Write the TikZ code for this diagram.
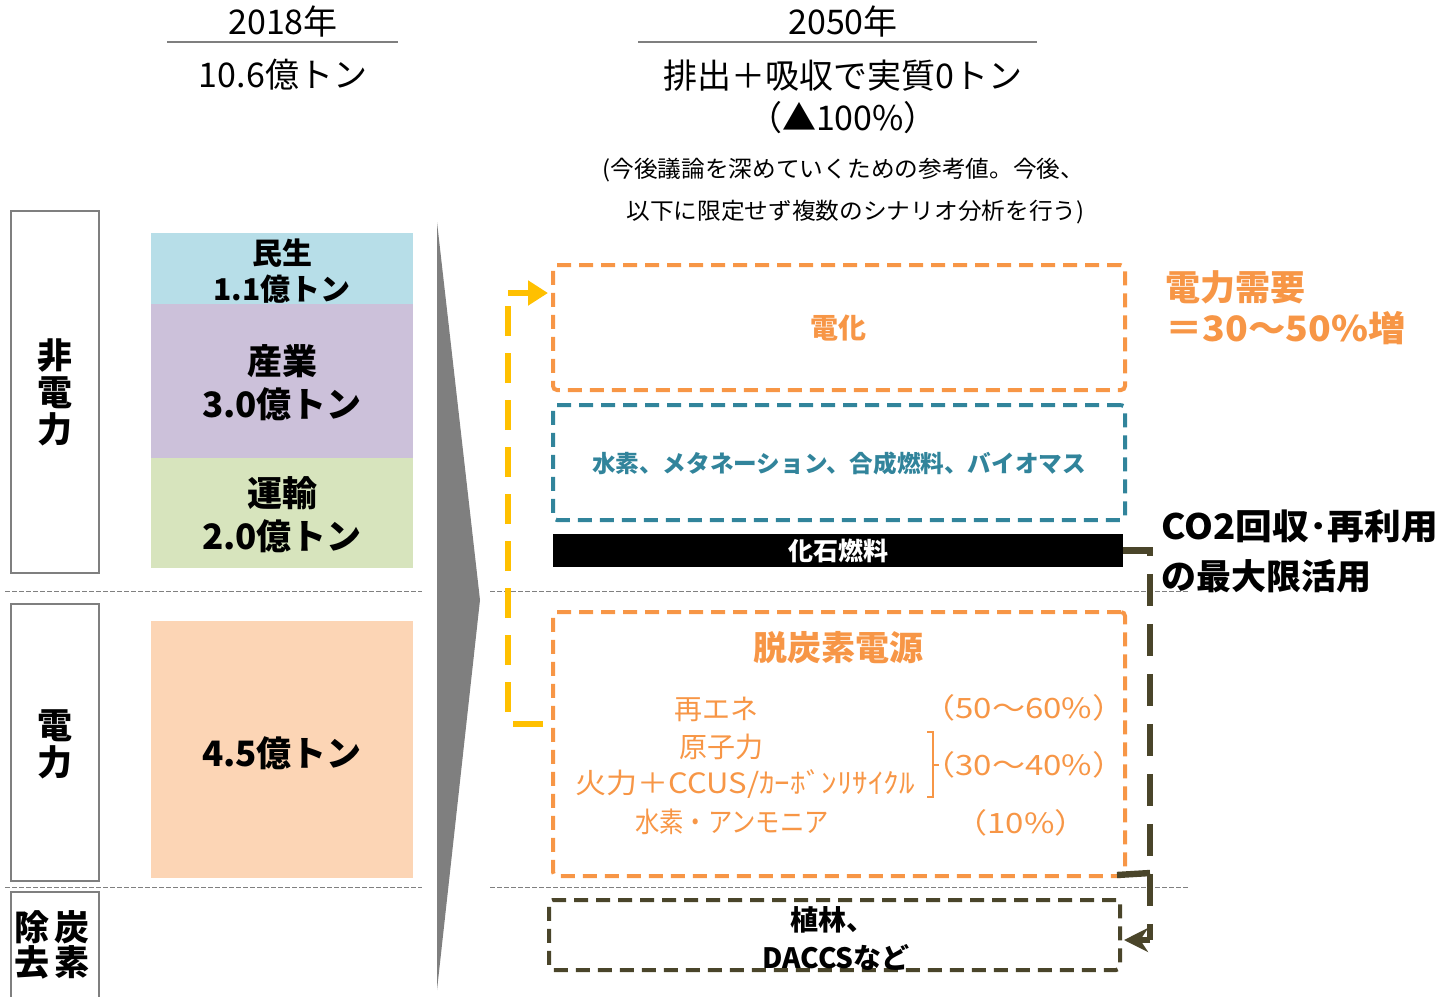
\documentclass[tikz,border=0pt]{standalone}
\usepackage{fontspec}
\setmainfont{Noto Sans CJK JP}
\usetikzlibrary{fit,arrows.meta,calc}
\definecolor{orng}{HTML}{F79646}
\definecolor{tealc}{HTML}{31849B}
\definecolor{olv}{HTML}{4A452A}
\definecolor{ylw}{HTML}{FFC000}
\definecolor{cmin}{HTML}{B7DEE8}
\definecolor{csan}{HTML}{CCC1DA}
\definecolor{cunyu}{HTML}{D7E4BD}
\definecolor{cden}{HTML}{FCD5B5}
\definecolor{garr}{HTML}{7F7F7F}
\newcommand\myfs[1]{\fontsize{#1}{#1}\selectfont}
\begin{document}
\begin{tikzpicture}[x=0.5pt,y=-0.5pt,
  txt/.style={inner sep=0pt, align=center},
  lblbox/.style={draw=garr, line width=0.9pt, inner sep=0pt},
  bar/.style={inner sep=0pt, draw=none},
  sepline/.style={draw=gray, line width=0.5pt, dash pattern=on 2.5pt off 1pt},
  hdrline/.style={draw=garr, line width=1pt},
  obox/.style={draw=orng, line width=2pt, dash pattern=on 7pt off 4pt, rounded corners=2pt, inner sep=0pt},
  tbox/.style={draw=tealc, line width=2pt, dash pattern=on 7pt off 4pt, rounded corners=2pt, inner sep=0pt},
  kbox/.style={draw=olv, line width=2pt, dash pattern=on 7pt off 4pt, rounded corners=2pt, inner sep=0pt},
  ylwline/.style={draw=ylw, line width=2.8pt, dash pattern=on 15pt off 8.5pt},
  olvline/.style={draw=olv, line width=3.2pt, dash pattern=on 16pt off 9pt},
]
\useasboundingbox (0,0) rectangle (1440,996);

% headers
\node[txt, font=\myfs{17pt}] (y2018) at (283,22) {2018年};
\coordinate (h1a) at (167,42); \coordinate (h1b) at (398,42);
\draw[hdrline] (h1a) -- (h1b);
\node[txt, font=\myfs{17pt}] (t2018) at (283,75) {10.6億トン};
\node[txt, font=\myfs{17pt}] (y2050) at (843,22) {2050年};
\coordinate (h2a) at (638,42); \coordinate (h2b) at (1037,42);
\draw[hdrline] (h2a) -- (h2b);
\node[txt, font=\myfs{17pt}] (t2050a) at (843,76) {排出＋吸収で実質0トン};
\node[txt, font=\myfs{17pt}] (t2050b) at (843,118) {（▲100\%）};
\node[txt, anchor=west, font=\myfs{11.5pt}] (note1) at (602,170) {\scalebox{1.03}[1]{(今後議論を深めていくための参考値。今後、}};
\node[txt, anchor=west, font=\myfs{11.5pt}] (note2) at (626,212) {\scalebox{1.03}[1]{以下に限定せず複数のシナリオ分析を行う)}};

% left label boxes
\node[lblbox, fit={(11,211) (99,573)}] (lhi) {};
\node[txt, font=\myfs{17.5pt}\bfseries, align=center] (lhit) at (lhi.center) {非\\[1pt]電\\[1pt]力};
\node[lblbox, fit={(11,604) (99,881)}] (lden) {};
\node[txt, font=\myfs{17.5pt}\bfseries, align=center] (ldent) at ([yshift=-1pt]lden.center) {電\\[1pt]力};
\node[lblbox, fit={(11,892) (99,1010)}] (ljo) {};
\node[txt, font=\myfs{17.5pt}\bfseries, align=center] (ljot) at (52,945) {除\hspace{3pt}炭\\去\hspace{3pt}素};

% separators
\coordinate (s1a) at (5,591); \coordinate (s1b) at (422,591);
\coordinate (s2a) at (5,887); \coordinate (s2b) at (422,887);
\coordinate (s3a) at (490,591); \coordinate (s3b) at (1190,591);
\coordinate (s4a) at (490,887); \coordinate (s4b) at (1188,887);
\draw[sepline] (s1a) -- (s1b);
\draw[sepline] (s2a) -- (s2b);
\draw[sepline] (s3a) -- (s3b);
\draw[sepline] (s4a) -- (s4b);

% stacked bars
\node[bar, fill=cmin, fit={(151,233) (413,304)}] (bmin) {};
\node[bar, fill=csan, fit={(151,304) (413,458)}] (bsan) {};
\node[bar, fill=cunyu, fit={(151,458) (413,568)}] (bun) {};
\node[bar, fill=cden, fit={(151,621) (413,878)}] (bden) {};
\node[txt, font=\myfs{15pt}\bfseries] at ([yshift=-1.5pt]bmin.center) {民生\\[3pt]1.1億トン};
\node[txt, font=\myfs{17.5pt}\bfseries] at ([yshift=-1pt]bsan.center) {産業\\[4pt]3.0億トン};
\node[txt, font=\myfs{17.5pt}\bfseries] at ([yshift=-1pt]bun.center) {運輸\\[4pt]2.0億トン};
\node[txt, font=\myfs{17.5pt}\bfseries] at ([yshift=-2pt]bden.center) {4.5億トン};

% grey arrow
\fill[garr] (437,222) -- (480,600) -- (437,990) -- cycle;

% right boxes
\node[obox, fit={(553,265) (1125,390)}] (denka) {};
\node[txt, text=orng, font=\myfs{14pt}\bfseries] at (838,328) {電化};
\node[tbox, fit={(553,405) (1125,520)}] (suiso) {};
\node[txt, text=tealc, font=\myfs{11.8pt}\bfseries] at (839,464) {水素、メタネーション、合成燃料、バイオマス};
\node[bar, fill=black, fit={(553,534) (1123,567)}] (fossil) {};
\node[txt, text=white, font=\myfs{12.5pt}\bfseries] at (fossil.center) {化石燃料};
\node[obox, fit={(553,612) (1125,876)}] (datsu) {};
\node[txt, text=orng, font=\myfs{17pt}\bfseries] at (838,648) {脱炭素電源};
\node[txt, text=orng, font=\myfs{14pt}] at (716,709) {再エネ};
\node[txt, text=orng, font=\myfs{14pt}] at (721,747) {原子力};
\node[txt, text=orng, font=\myfs{14pt}] at (745,784) {\scalebox{1.11}[1]{火力＋CCUS/ｶｰﾎﾞﾝﾘｻｲｸﾙ}};
\node[txt, text=orng, font=\myfs{14pt}] at (732,822) {\scalebox{0.87}[1]{水素・アンモニア}};
\node[txt, text=orng, font=\myfs{14pt}] at (1024,708) {\scalebox{1.18}[1]{（50～60\%）}};
\node[txt, text=orng, font=\myfs{14pt}] at (1024,765) {\scalebox{1.18}[1]{（30～40\%）}};
\node[txt, text=orng, font=\myfs{14pt}] at (1021,823) {\scalebox{1.18}[1]{（10\%）}};
\draw[orng, line width=0.8pt] (927,732) -- (933,732) -- (933,797) -- (927,797);
\draw[orng, line width=0.8pt] (933,765) -- (939,765);
\node[kbox, fit={(549,900) (1120,970)}] (shoku) {};
\node[txt, font=\myfs{14pt}\bfseries] at (832,920) {植林、};
\node[txt, font=\myfs{14pt}\bfseries] at (836,957) {DACCSなど};

% right annotations
\node[txt, anchor=west, text=orng, font=\myfs{17.5pt}\bfseries] (juyo1) at (1165,287) {電力需要};
\node[txt, anchor=west, text=orng, font=\myfs{17.5pt}\bfseries] (juyo2) at (1165,328) {\scalebox{1.07}[1]{＝30～50\%増}};
\node[txt, anchor=west, font=\myfs{17.5pt}\bfseries] (co2a) at (1161,526) {\scalebox{1.05}[1]{CO2回収･再利用}};
\node[txt, anchor=west, font=\myfs{17.5pt}\bfseries] (co2b) at (1161,576) {の最大限活用};

% yellow connector
\coordinate (ybend) at (508,724);
\coordinate (ytop) at (508,293);
\draw[ylwline] ([xshift=-4pt,yshift=10pt]datsu.west) -- (ybend) -- (ytop);
\draw[draw=ylw, line width=2.8pt, -{Triangle[length=10pt,width=12pt]}] (ytop) -- ([xshift=-1.5pt,yshift=17.25pt]denka.west);

% olive connector
\coordinate (obot) at (1150,940);
\coordinate (otop) at (fossil.east -| obot);
\draw[olvline] (fossil.east) -- (otop) -- (obot);
\coordinate (omid) at (1150,873);
\draw[draw=olv, line width=3.2pt] ([xshift=-5pt,yshift=1.5pt]datsu.south east) -- (omid);
\draw[draw=olv, line width=3.2pt, -{Stealth[length=12pt,width=12pt]}] (obot) -- ([xshift=1pt,yshift=-2.5pt]shoku.east);
\end{tikzpicture}
\end{document}
